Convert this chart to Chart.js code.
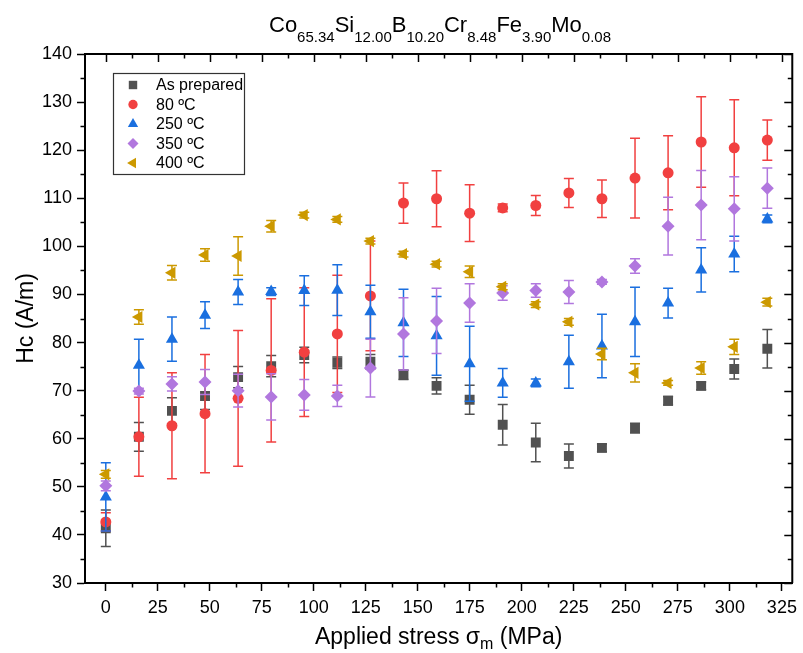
<!DOCTYPE html>
<html>
<head>
<meta charset="utf-8">
<script src="https://cdn.jsdelivr.net/npm/chart.js@4"></script>
<style>
body{margin:0;background:#fff;}
#wrap{width:803px;height:653px;}
</style>
</head>
<body>
<div id="wrap"><canvas id="hcChart" width="803" height="653"></canvas></div>
<script>
// applied stress (MPa) and coercivity Hc (A/m) with error bars
const stress = [0, 15.9, 31.8, 47.7, 63.6, 79.5, 95.4, 111.3, 127.2, 143.1, 159.0, 174.9, 190.8, 206.7, 222.6, 238.5, 254.4, 270.3, 286.2, 302.1, 318.0];

const hcAsPrepared = [41.4, 60.4, 65.8, 68.9, 72.8, 75.1, 77.4, 75.8, 76.0, 73.3, 71.0, 68.1, 62.9, 59.2, 56.4, 58.1, 62.2, 67.9, 71.0, 74.5, 78.7];
const errAsPrepared = [3.8, 3.0, 2.7, 2.8, 2.2, 2.2, 1.6, 1.2, 1.5, 1.0, 1.7, 3.0, 4.2, 4.0, 2.5, 0.8, 1.0, 0.9, 0.8, 2.1, 4.0];

const hc80 = [42.7, 60.4, 62.7, 65.2, 68.4, 74.2, 78.0, 81.8, 89.7, 109.0, 109.9, 106.9, 108.0, 108.5, 111.1, 109.9, 114.2, 115.3, 121.7, 120.5, 122.1];
const err80 = [1.9, 8.2, 11.0, 12.3, 14.1, 14.9, 13.4, 12.2, 11.4, 4.2, 5.8, 5.9, 0.8, 2.1, 3.0, 3.9, 8.3, 7.7, 9.4, 10.0, 4.2];

const hc250 = [47.9, 75.3, 80.7, 85.7, 90.5, 90.6, 90.8, 90.9, 86.4, 84.1, 81.4, 75.6, 71.6, 71.6, 76.0, 79.3, 84.3, 88.2, 95.1, 98.4, 105.7];
const err250 = [7.1, 5.4, 4.6, 2.8, 2.6, 0.8, 3.1, 5.3, 5.5, 7.0, 8.2, 7.8, 3.0, 0.8, 5.5, 6.6, 7.2, 3.1, 4.6, 3.7, 0.8];

const hc350 = [50.2, 69.9, 71.4, 71.8, 70.0, 68.7, 69.1, 68.9, 74.7, 81.8, 84.5, 88.2, 90.3, 90.8, 90.5, 92.6, 95.9, 104.2, 108.6, 107.8, 112.1];
const err350 = [1.0, 0.6, 1.5, 2.6, 3.4, 4.8, 3.2, 2.2, 6.0, 7.5, 6.8, 4.0, 1.5, 1.4, 2.4, 0.5, 1.5, 6.0, 7.2, 6.7, 4.2];

const hc400 = [52.6, 85.3, 94.5, 98.2, 98.0, 104.2, 106.5, 105.6, 101.1, 98.4, 96.3, 94.7, 91.6, 87.9, 84.3, 77.6, 73.7, 71.6, 74.7, 79.1, 88.4];
const err400 = [0.8, 1.5, 1.5, 1.3, 4.0, 1.2, 0.6, 0.6, 0.6, 0.6, 0.6, 1.2, 0.6, 0.6, 0.7, 1.2, 1.9, 0.5, 1.3, 1.6, 0.8];

const seriesLabels = ['As prepared', '80 \u00baC', '250 \u00baC', '350 \u00baC', '400 \u00baC'];
const xTickStep = 25;
const yTickStep = 10;

const FONT = "'Liberation Sans', Arial, sans-serif";

function pts(ys){
  return ys.map((v,i)=>({x:stress[i], y:v}));
}

function series(i, ys, errs, color, style, radius, rotation){
  return {
    label: seriesLabels[i],
    data: pts(ys),
    errors: errs,
    order: 4 - i,
    pointStyle: style,
    pointRadius: radius,
    pointRotation: rotation || 0,
    pointBackgroundColor: color,
    pointBorderColor: color,
    pointBorderWidth: 0,
    backgroundColor: color,
    borderColor: color,
    showLine: false
  };
}

// error bars, drawn under each dataset's symbols
const errorBars = {
  id: 'errorBars',
  beforeDatasetDraw(chart, args){
    const ds = chart.data.datasets[args.index];
    const xs = chart.scales.x, ys = chart.scales.y;
    const ctx = chart.ctx;
    ctx.save();
    ctx.strokeStyle = ds.borderColor;
    ctx.lineWidth = 1.5;
    ds.data.forEach((p,i)=>{
      const e = ds.errors[i];
      const px = xs.getPixelForValue(p.x);
      const top = ys.getPixelForValue(p.y + e);
      const bot = ys.getPixelForValue(p.y - e);
      ctx.beginPath();
      ctx.moveTo(px, top); ctx.lineTo(px, bot);
      ctx.moveTo(px - 5, top); ctx.lineTo(px + 5, top);
      ctx.moveTo(px - 5, bot); ctx.lineTo(px + 5, bot);
      ctx.stroke();
    });
    ctx.restore();
  }
};

function drawRuns(ctx, runs, cx, base, big, small, subDrop){
  let w = 0;
  runs.forEach(r=>{
    ctx.font = (r[1] ? small : big) + 'px ' + FONT;
    w += ctx.measureText(r[0]).width;
  });
  let x = cx - w/2;
  runs.forEach(r=>{
    ctx.font = (r[1] ? small : big) + 'px ' + FONT;
    ctx.fillText(r[0], x, r[1] ? base + subDrop : base);
    x += ctx.measureText(r[0]).width;
  });
}

// frame, minor / mirrored ticks, titles and legend
const decorations = {
  id: 'decorations',
  afterDraw(chart){
    const ctx = chart.ctx;
    const a = chart.chartArea;
    const xs = chart.scales.x, ys = chart.scales.y;
    ctx.save();
    ctx.strokeStyle = '#000';
    ctx.lineWidth = 2;
    ctx.beginPath();
    ctx.moveTo(a.left, a.top); ctx.lineTo(a.right, a.top); ctx.lineTo(a.right, a.bottom);
    ctx.stroke();

    ctx.lineWidth = 1.5;
    ctx.beginPath();
    for (let v = 0; v <= xs.max; v += xTickStep/2){
      const px = Math.round(xs.getPixelForValue(v)) + 0.5;
      const major = (v % xTickStep) === 0;
      const len = major ? 8 : 4.5;
      if (!major){ ctx.moveTo(px, a.bottom); ctx.lineTo(px, a.bottom + len); }
      ctx.moveTo(px, a.top); ctx.lineTo(px, a.top + len);
    }
    for (let v = ys.min; v <= ys.max; v += yTickStep/2){
      const py = Math.round(ys.getPixelForValue(v)) + 0.5;
      const major = (v % yTickStep) === 0;
      const len = major ? 8 : 4.5;
      if (!major){ ctx.moveTo(a.left, py); ctx.lineTo(a.left - len, py); }
      ctx.moveTo(a.right, py); ctx.lineTo(a.right - len, py);
    }
    ctx.stroke();

    // titles
    ctx.fillStyle = '#000';
    ctx.textAlign = 'left';
    ctx.textBaseline = 'alphabetic';
    drawRuns(ctx, [['Co',0],['65.34',1],['Si',0],['12.00',1],['B',0],['10.20',1],['Cr',0],['8.48',1],['Fe',0],['3.90',1],['Mo',0],['0.08',1]],
      440, 32, 22, 15, 10);
    drawRuns(ctx, [['Applied stress \u03c3',0],['m',1],[' (MPa)',0]], (a.left + a.right)/2, 644, 23, 16, 5);

    ctx.save();
    ctx.translate(33, (a.top + a.bottom)/2);
    ctx.rotate(-Math.PI/2);
    ctx.font = '23px ' + FONT;
    ctx.textAlign = 'center';
    ctx.fillText('Hc (A/m)', 0, 0);
    ctx.restore();

    // legend
    ctx.fillStyle = '#fff';
    ctx.fillRect(113, 73, 131, 101);
    ctx.strokeStyle = '#333';
    ctx.lineWidth = 1.2;
    ctx.strokeRect(113.5, 73.5, 131, 101);
    ctx.font = '16px ' + FONT;
    ctx.textBaseline = 'middle';
    chart.data.datasets.forEach((ds,i)=>{
      const cy = 85 + i*19.5;
      ctx.fillStyle = ds.pointBackgroundColor;
      Chart.helpers.drawPoint(ctx, {
        pointStyle: ds.pointStyle,
        radius: ds.pointRadius*0.85,
        rotation: ds.pointRotation,
        borderWidth: 0
      }, 133, cy);
      ctx.fillStyle = '#000';
      ctx.fillText(ds.label, 156, cy + 1);
    });
    ctx.restore();
  }
};

new Chart(document.getElementById('hcChart'),{
  type:'scatter',
  data:{
    datasets:[
      series(0, hcAsPrepared, errAsPrepared, '#515151', 'rect', 7),
      series(1, hc80, err80, '#F14040', 'circle', 5.5),
      series(2, hc250, err250, '#1A6FDF', 'triangle', 7),
      series(3, hc350, err350, '#B177DE', 'rectRot', 6.5),
      series(4, hc400, err400, '#CC9900', 'triangle', 7, -90)
    ]
  },
  options:{
    responsive:false,
    animation:false,
    devicePixelRatio:1,
    events:[],
    layout:{padding:{top:54, right:5, left:0, bottom:0}},
    plugins:{
      legend:{display:false},
      tooltip:{enabled:false},
      title:{display:false}
    },
    scales:{
      x:{
        type:'linear',
        min:-10,
        max:330,
        afterFit(scale){ scale.height = 70; },
        ticks:{stepSize:xTickStep, includeBounds:false, color:'#000', padding:6, maxRotation:0,
          font:{family:FONT, size:18}},
        grid:{display:true, drawOnChartArea:false, drawTicks:true, tickLength:8, tickWidth:1.5, tickColor:'#000'},
        border:{display:true, color:'#000', width:2}
      },
      y:{
        type:'linear',
        min:30,
        max:140,
        afterFit(scale){ scale.width = 85; },
        ticks:{stepSize:yTickStep, color:'#000', padding:5, font:{family:FONT, size:18}},
        grid:{display:true, drawOnChartArea:false, drawTicks:true, tickLength:8, tickWidth:1.5, tickColor:'#000'},
        border:{display:true, color:'#000', width:2}
      }
    }
  },
  plugins:[errorBars, decorations]
});
</script>
</body>
</html>
